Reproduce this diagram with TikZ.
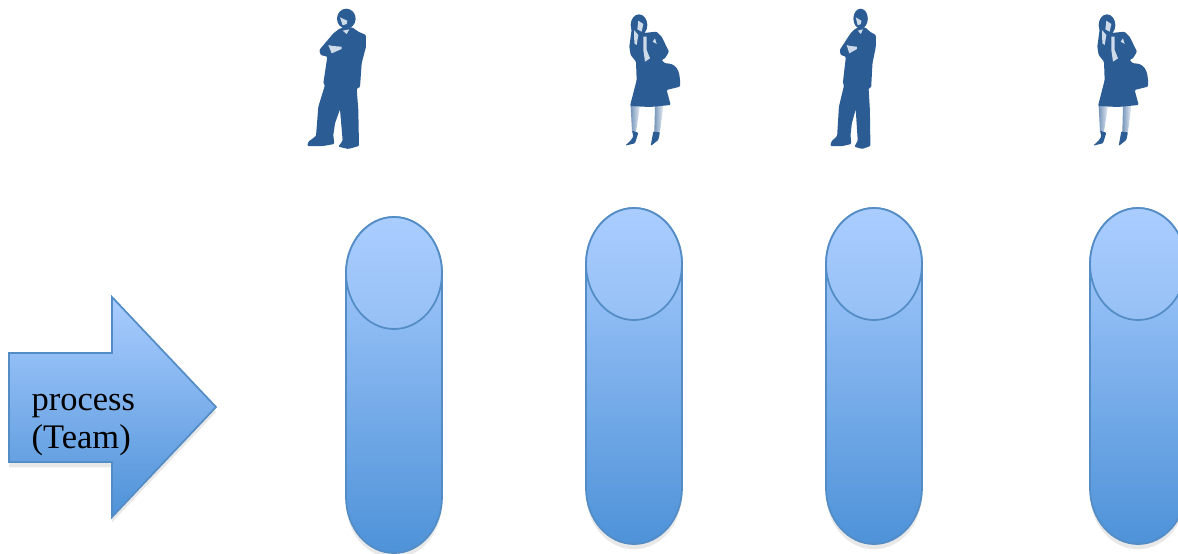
\documentclass[tikz,border=0pt]{standalone}
\usepackage{fontspec}
\setmainfont{Liberation Serif}
\usepackage{xcolor}
\usetikzlibrary{shadows}
\definecolor{canlight}{RGB}{170,205,255}
\definecolor{canlid}{RGB}{150,192,245}
\definecolor{candark}{RGB}{78,146,216}
\definecolor{canline}{RGB}{84,141,198}
\definecolor{figblue}{RGB}{44,92,148}
\definecolor{figpale}{RGB}{205,218,234}
\tikzset{
    canbody/.style={draw=canline, line width=0.5pt, top color=canlight, bottom color=candark,
        drop shadow={shadow xshift=0pt, shadow yshift=-1.5pt, opacity=0.18}},
    canlid/.style={draw=canline, line width=0.5pt, top color=canlight, bottom color=canlid},
    figfill/.style={fill=figblue, draw=none, rounded corners=0.3pt},
    figdetail/.style={fill=figpale, draw=none},
    figleg/.style={left color=figblue!65, right color=figpale!50, draw=none},
    pics/can/.style={code={
        \path[canbody] (-48,56) arc[start angle=180, end angle=360, x radius=48, y radius=56]
            -- (48,280) arc[start angle=0, end angle=180, x radius=48, y radius=56] -- cycle;
        \path[canlid] (0,56) ellipse[x radius=48, y radius=56];
    }},
    pics/man/.style={code={
        % head, then body
        \path[figfill] (169,56) ellipse[x radius=28, y radius=30];
        \path[figfill] (150,85) -- (187,82) -- (205,95)
            -- (228,105) -- (228,140) -- (215,190) -- (210,262) -- (200,265) -- (205,330) -- (207,438)
            -- (175,447) -- (145,440) -- (158,422) -- (150,328) -- (135,370) -- (130,405) -- (133,432)
            -- (100,438) -- (52,438) -- (55,425) -- (78,408) -- (85,320) -- (105,255) -- (100,250)
            -- (112,170) -- (92,165) -- (88,150) -- (130,100) -- cycle;
        \path[figdetail] (158,92) -- (178,88) -- (170,102) -- cycle;
        \path[figdetail] (115,135) -- (128,138) -- (155,140) -- (155,147) -- (125,160) -- cycle;
        \path[figdetail] (150,52) -- (172,62) -- (170,72) -- (158,76) -- cycle;
    }},
    pics/woman/.style={code={
        \path[figleg] (62,318) -- (90,318) -- (78,395) -- (66,395) -- cycle;
        \path[figleg] (135,318) -- (160,318) -- (150,395) -- (133,395) -- cycle;
        % hair, then coat and bag
        \path[figfill] (87,75) ellipse[x radius=25, y radius=32];
        \path[figfill] (90,100) -- (140,95) -- (155,110)
            -- (177,155) -- (165,175) -- (155,180) -- (165,190) .. controls (195,190) and (212,205) .. (210,260)
            -- (170,270) -- (182,315) -- (120,321) -- (60,318) -- (80,240) -- (78,185) -- (62,165)
            -- (58,140) -- (66,80) -- cycle;
        % shoes
        \path[figfill] (66,392) -- (85,398) -- (75,430) -- (45,437) -- (60,424) -- (70,410) -- cycle;
        \path[figfill] (130,394) -- (150,396) -- (145,420) -- (122,438) -- (126,416) -- cycle;
        \path[figdetail] (100,110) -- (110,110) -- (110,150) -- (120,175) -- (105,185) -- (100,150) -- cycle;
        \path[figdetail] (72,90) -- (85,105) -- (80,135) -- (73,130) -- cycle;
        \path[figdetail] (85,62) -- (100,72) -- (95,95) -- (82,88) -- cycle;
        \path[figdetail] (128,125) -- (135,115) -- (140,132) -- cycle;
    }},
}
\begin{document}
\begin{tikzpicture}[x=0.01cm, y=-0.01cm]
    \useasboundingbox (0,0) rectangle (1178,553);
    \clip (0,0) rectangle (1178,553);

    \pic[scale=0.3333] at (290,0) {man};
    \pic[scale=0.3333] at (610,0) {woman};
    \pic[xscale=0.258, yscale=0.3333] at (817,0) {man};
    \pic[scale=0.3333] at (1078,0) {woman};

    \pic at (394,217) {can};
    \pic at (634,208) {can};
    \pic at (874,208) {can};
    \pic at (1138,208) {can};

    \path[canbody] (9,353) -- (112,353) -- (112,297) -- (216,407) -- (112,517) -- (112,462) -- (9,462) -- cycle;
    \node[anchor=west, align=left, inner sep=0pt, font=\fontsize{9.8}{10.6}\selectfont] (proc) at (31,425) {process\\(Team)};
\end{tikzpicture}
\end{document}
